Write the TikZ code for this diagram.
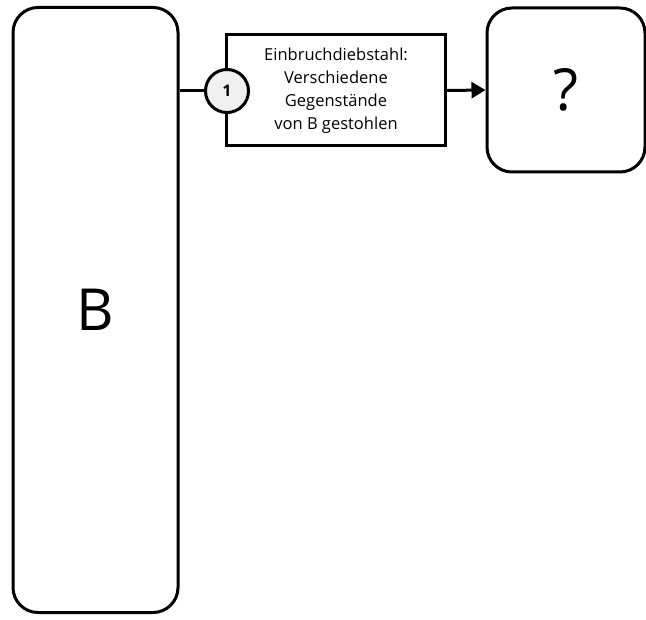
\documentclass[tikz,border=0pt]{standalone}
\usepackage{fontspec}
\setmainfont{Open Sans}
\usetikzlibrary{arrows.meta,positioning}

\begin{document}
\begin{tikzpicture}[x=1pt,y=-1pt,->,>={Triangle[length=14pt,width=16pt]},line width=3pt,
					party node/.style={rectangle,rounded corners=25pt,draw,align=center,font=\fontsize{58}{64}\selectfont},
					event node/.style={rectangle,draw,align=center,font=\fontsize{16.5}{23}\selectfont,minimum width=219pt,minimum height=111pt},
					step node/.style={circle,draw,fill=black!6,minimum size=43pt,inner sep=0pt,font=\bfseries\fontsize{16}{18}\selectfont}]

				\useasboundingbox (0,0) rectangle (646,620);

				\node[party node,minimum width=165pt,minimum height=605pt] (B) at (95.5,310) {B};
				\node[event node] (E) at (336,90.5) {Einbruchdiebstahl:\\Verschiedene\\Gegenstände\\von B gestohlen};
				\node[step node] (S1) at (227,91) {1};
				\node[party node,minimum width=158pt,minimum height=164pt] (Q) at (566,90) {?};

				\path[]
				(B.east |- S1.west) edge [-] (S1.west)
				(E.east) edge (Q.west);
			\end{tikzpicture}
\end{document}
